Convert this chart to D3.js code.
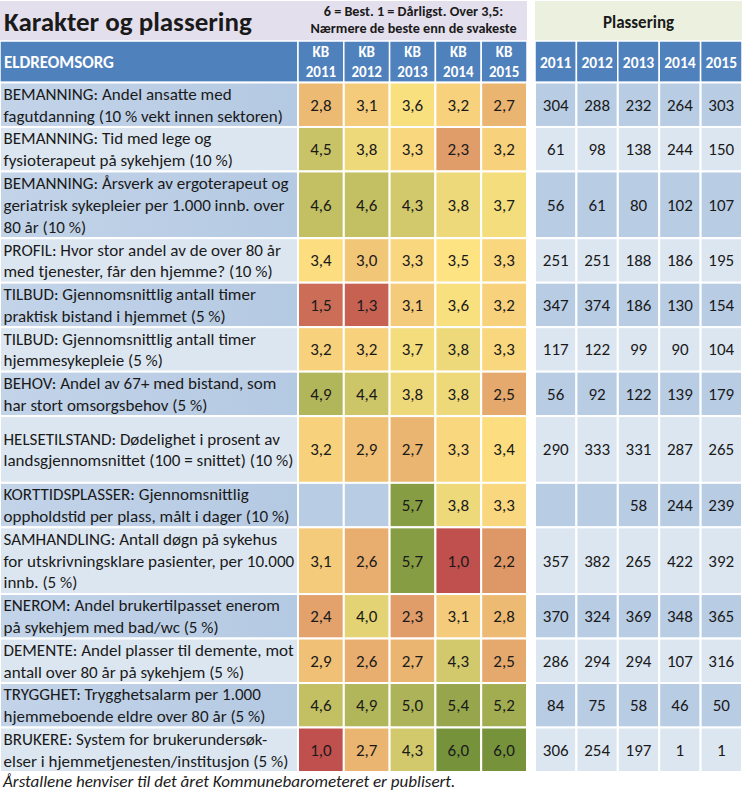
<!DOCTYPE html>
<html><head><meta charset="utf-8">
<script src="https://cdn.jsdelivr.net/npm/d3@7"></script>
<style>body{margin:0;background:#fff}svg{display:block}</style>
</head><body>
<svg id="c" width="747" height="794"></svg>
<script>
// ---------- DATA ----------
const title = "Karakter og plassering";
const subtitle = ["6 = Best. 1 = Dårligst. Over 3,5:", "Nærmere de beste enn de svakeste"];
const rankTitle = "Plassering";
const sectionLabel = "ELDREOMSORG";
const years = ["2011", "2012", "2013", "2014", "2015"];
const footer = "Årstallene henviser til det året Kommunebarometeret er publisert.";

const labels = [
  ["BEMANNING: Andel ansatte med", "fagutdanning (10 % vekt innen sektoren)"],
  ["BEMANNING: Tid med lege og", "fysioterapeut på sykehjem (10 %)"],
  ["BEMANNING: Årsverk av ergoterapeut og", "geriatrisk sykepleier per 1.000 innb. over", "80 år (10 %)"],
  ["PROFIL: Hvor stor andel av de over 80 år", "med tjenester, får den hjemme? (10 %)"],
  ["TILBUD: Gjennomsnittlig antall timer", "praktisk bistand i hjemmet (5 %)"],
  ["TILBUD: Gjennomsnittlig antall timer", "hjemmesykepleie (5 %)"],
  ["BEHOV: Andel av 67+ med bistand, som", "har stort omsorgsbehov (5 %)"],
  ["HELSETILSTAND: Dødelighet i prosent av", "landsgjennomsnittet (100 = snittet) (10 %)"],
  ["KORTTIDSPLASSER: Gjennomsnittlig", "oppholdstid per plass, målt i dager (10 %)"],
  ["SAMHANDLING: Antall døgn på sykehus", "for utskrivningsklare pasienter, per 10.000", "innb. (5 %)"],
  ["ENEROM: Andel brukertilpasset enerom", "på sykehjem med bad/wc (5 %)"],
  ["DEMENTE: Andel plasser til demente, mot", "antall over 80 år på sykehjem (5 %)"],
  ["TRYGGHET: Trygghetsalarm per 1.000", "hjemmeboende eldre over 80 år (5 %)"],
  ["BRUKERE: System for brukerundersøk-", "elser i hjemmetjenesten/institusjon (5 %)"]
];
// row height in text-line units
const rowUnits = [2, 2, 3, 2, 2, 2, 2, 3, 2, 3, 2, 2, 2, 2];

// KB grades per year (null = no value)
const kb2011 = [2.8, 4.5, 4.6, 3.4, 1.5, 3.2, 4.9, 3.2, null, 3.1, 2.4, 2.9, 4.6, 1.0];
const kb2012 = [3.1, 3.8, 4.6, 3.0, 1.3, 3.2, 4.4, 2.9, null, 2.6, 4.0, 2.6, 4.9, 2.7];
const kb2013 = [3.6, 3.3, 4.3, 3.3, 3.1, 3.7, 3.8, 2.7, 5.7, 5.7, 2.3, 2.7, 5.0, 4.3];
const kb2014 = [3.2, 2.3, 3.8, 3.5, 3.6, 3.8, 3.8, 3.3, 3.8, 1.0, 3.1, 4.3, 5.4, 6.0];
const kb2015 = [2.7, 3.2, 3.7, 3.3, 3.2, 3.3, 2.5, 3.4, 3.3, 2.2, 2.8, 2.5, 5.2, 6.0];

// Ranking per year
const rank2011 = [304, 61, 56, 251, 347, 117, 56, 290, null, 357, 370, 286, 84, 306];
const rank2012 = [288, 98, 61, 251, 374, 122, 92, 333, null, 382, 324, 294, 75, 254];
const rank2013 = [232, 138, 80, 188, 186, 99, 122, 331, 58, 265, 369, 294, 58, 197];
const rank2014 = [264, 244, 102, 186, 130, 90, 139, 287, 244, 422, 348, 107, 46, 1];
const rank2015 = [303, 150, 107, 195, 154, 104, 179, 265, 239, 392, 365, 316, 50, 1];

const kbSeries = [kb2011, kb2012, kb2013, kb2014, kb2015];
const rankSeries = [rank2011, rank2012, rank2013, rank2014, rank2015];

// ---------- DRAW ----------
const FONT = "Carlito, Lato, 'Open Sans', sans-serif";
const svg = d3.select("#c");

const labelRight = 298;
const xKB = d3.scaleBand().domain(years).range([298, 527]);
const xRank = d3.scaleBand().domain(years).range([535, 742]);

const headTop = 41, headBottom = 82.5;
const cum = [0];
rowUnits.forEach(u => cum.push(cum[cum.length - 1] + u));
const yU = d3.scaleLinear().domain([0, cum[cum.length - 1]]).range([headBottom, 772]);

const color = d3.scaleLinear().domain([1, 3.5, 6])
  .range(["#c0504d", "#fee382", "#76933c"]).interpolate(d3.interpolateRgb);
const fmt = d3.formatLocale({decimal: ",", thousands: " ", grouping: [3], currency: ["", ""]}).format(".1f");

const DARK = "#b8cce4", LIGHT = "#dce6f1", BLUE = "#4f81bd";
const INK = "#1a1a1a";

const defs = svg.append("defs");
const gd = defs.append("linearGradient").attr("id", "gDark");
gd.append("stop").attr("offset", "0%").attr("stop-color", "#c3d4e9");
gd.append("stop").attr("offset", "100%").attr("stop-color", "#b4c9e2");

// title bands
svg.append("rect").attr("x", 0).attr("y", 1).attr("width", 527).attr("height", headTop - 1).attr("fill", "#e4dfec");
svg.append("rect").attr("x", 535).attr("y", 1).attr("width", 207).attr("height", headTop - 1).attr("fill", "#ebf1de");

svg.append("text").attr("x", 4).attr("y", 31).text(title)
  .attr("font-family", FONT).attr("font-weight", "bold").attr("font-size", 27).attr("fill", INK);
svg.append("g").selectAll("text").data(subtitle).join("text")
  .attr("x", (xKB.range()[0] + xKB.range()[1]) / 2 + 1).attr("y", (d, i) => 16 + i * 17)
  .attr("text-anchor", "middle").attr("font-family", FONT).attr("font-weight", "bold")
  .attr("font-size", 14.2).attr("fill", INK).text(d => d);
svg.append("text").attr("x", (xRank.range()[0] + xRank.range()[1]) / 2).attr("y", 28)
  .attr("text-anchor", "middle").attr("font-family", FONT).attr("font-weight", "bold")
  .attr("font-size", 17).attr("fill", INK).text(rankTitle);

// header row
const hdr = svg.append("g");
hdr.append("rect").attr("x", 0).attr("y", headTop).attr("width", labelRight).attr("height", headBottom - headTop)
  .attr("fill", BLUE).attr("stroke", "#fff").attr("stroke-width", 1.5);
hdr.selectAll(".hk").data(years).join("rect").attr("class", "hk")
  .attr("x", d => xKB(d)).attr("y", headTop).attr("width", xKB.bandwidth()).attr("height", headBottom - headTop)
  .attr("fill", BLUE).attr("stroke", "#fff").attr("stroke-width", 1.5);
hdr.selectAll(".hr").data(years).join("rect").attr("class", "hr")
  .attr("x", d => xRank(d)).attr("y", headTop).attr("width", xRank.bandwidth()).attr("height", headBottom - headTop)
  .attr("fill", BLUE).attr("stroke", "#fff").attr("stroke-width", 1.5);
hdr.append("text").attr("x", 4).attr("y", (headTop + headBottom) / 2 + 6).text(sectionLabel)
  .attr("font-family", FONT).attr("font-weight", "bold").attr("font-size", 17).attr("fill", "#fff");
years.forEach(y => {
  const t = hdr.append("text").attr("text-anchor", "middle").attr("font-family", FONT)
    .attr("font-weight", "bold").attr("font-size", 15).attr("fill", "#fff");
  t.append("tspan").attr("x", xKB(y) + xKB.bandwidth() / 2).attr("y", 57).text("KB");
  t.append("tspan").attr("x", xKB(y) + xKB.bandwidth() / 2).attr("y", 77).text(y);
  hdr.append("text").attr("text-anchor", "middle").attr("font-family", FONT)
    .attr("font-weight", "bold").attr("font-size", 15.5).attr("fill", "#fff")
    .attr("x", xRank(y) + xRank.bandwidth() / 2).attr("y", 67.5).text(y);
});

// body rows
const rows = labels.map((l, i) => ({i, lines: l, y0: yU(cum[i]), y1: yU(cum[i + 1])}));
const body = svg.append("g");
const rg = body.selectAll("g.row").data(rows).join("g").attr("class", "row");

rg.append("rect").attr("x", 0).attr("y", d => d.y0).attr("width", labelRight).attr("height", d => d.y1 - d.y0)
  .attr("fill", d => d.i % 2 === 0 ? "url(#gDark)" : LIGHT).attr("stroke", "#fff").attr("stroke-width", 2);

const labelG = rg.append("text").attr("class", "lbl").attr("font-family", FONT).attr("fill", INK);
labelG.selectAll("tspan").data(d => d.lines.map((t, k) => ({t, k, n: d.lines.length, c: (d.y0 + d.y1) / 2})))
  .join("tspan").attr("x", 3.5)
  .attr("y", d => d.c + (d.k - (d.n - 1) / 2) * 21.7 + 6).text(d => d.t);

// fit label font to the target column width
let fs = 16;
labelG.attr("font-size", fs);
let maxW = 0;
labelG.selectAll("tspan").each(function () { maxW = Math.max(maxW, this.getComputedTextLength()); });
fs = Math.min(17.5, fs * 291 / maxW);
labelG.attr("font-size", fs);

// KB cells
years.forEach((yr, j) => {
  const vals = kbSeries[j];
  rg.append("rect").attr("x", xKB(yr)).attr("y", d => d.y0).attr("width", xKB.bandwidth()).attr("height", d => d.y1 - d.y0)
    .attr("fill", d => vals[d.i] == null ? (d.i % 2 === 0 ? DARK : LIGHT) : color(vals[d.i]))
    .attr("stroke", "#fff").attr("stroke-width", 2);
  rg.filter(d => vals[d.i] != null).append("text")
    .attr("x", xKB(yr) + xKB.bandwidth() / 2).attr("y", d => (d.y0 + d.y1) / 2 + 6)
    .attr("text-anchor", "middle").attr("font-family", FONT).attr("font-size", 17).attr("fill", INK)
    .text(d => fmt(vals[d.i]));
});

// Rank cells
years.forEach((yr, j) => {
  const vals = rankSeries[j];
  rg.append("rect").attr("x", xRank(yr)).attr("y", d => d.y0).attr("width", xRank.bandwidth()).attr("height", d => d.y1 - d.y0)
    .attr("fill", d => d.i % 2 === 0 ? DARK : LIGHT).attr("stroke", "#fff").attr("stroke-width", 2);
  rg.filter(d => vals[d.i] != null).append("text")
    .attr("x", xRank(yr) + xRank.bandwidth() / 2).attr("y", d => (d.y0 + d.y1) / 2 + 6)
    .attr("text-anchor", "middle").attr("font-family", FONT).attr("font-size", 17).attr("fill", INK)
    .text(d => vals[d.i]);
});

// footer
svg.append("text").attr("x", 3).attr("y", 787).attr("font-family", FONT).attr("font-style", "italic")
  .attr("font-size", 17).attr("fill", INK).text(footer);
</script>
</body></html>
